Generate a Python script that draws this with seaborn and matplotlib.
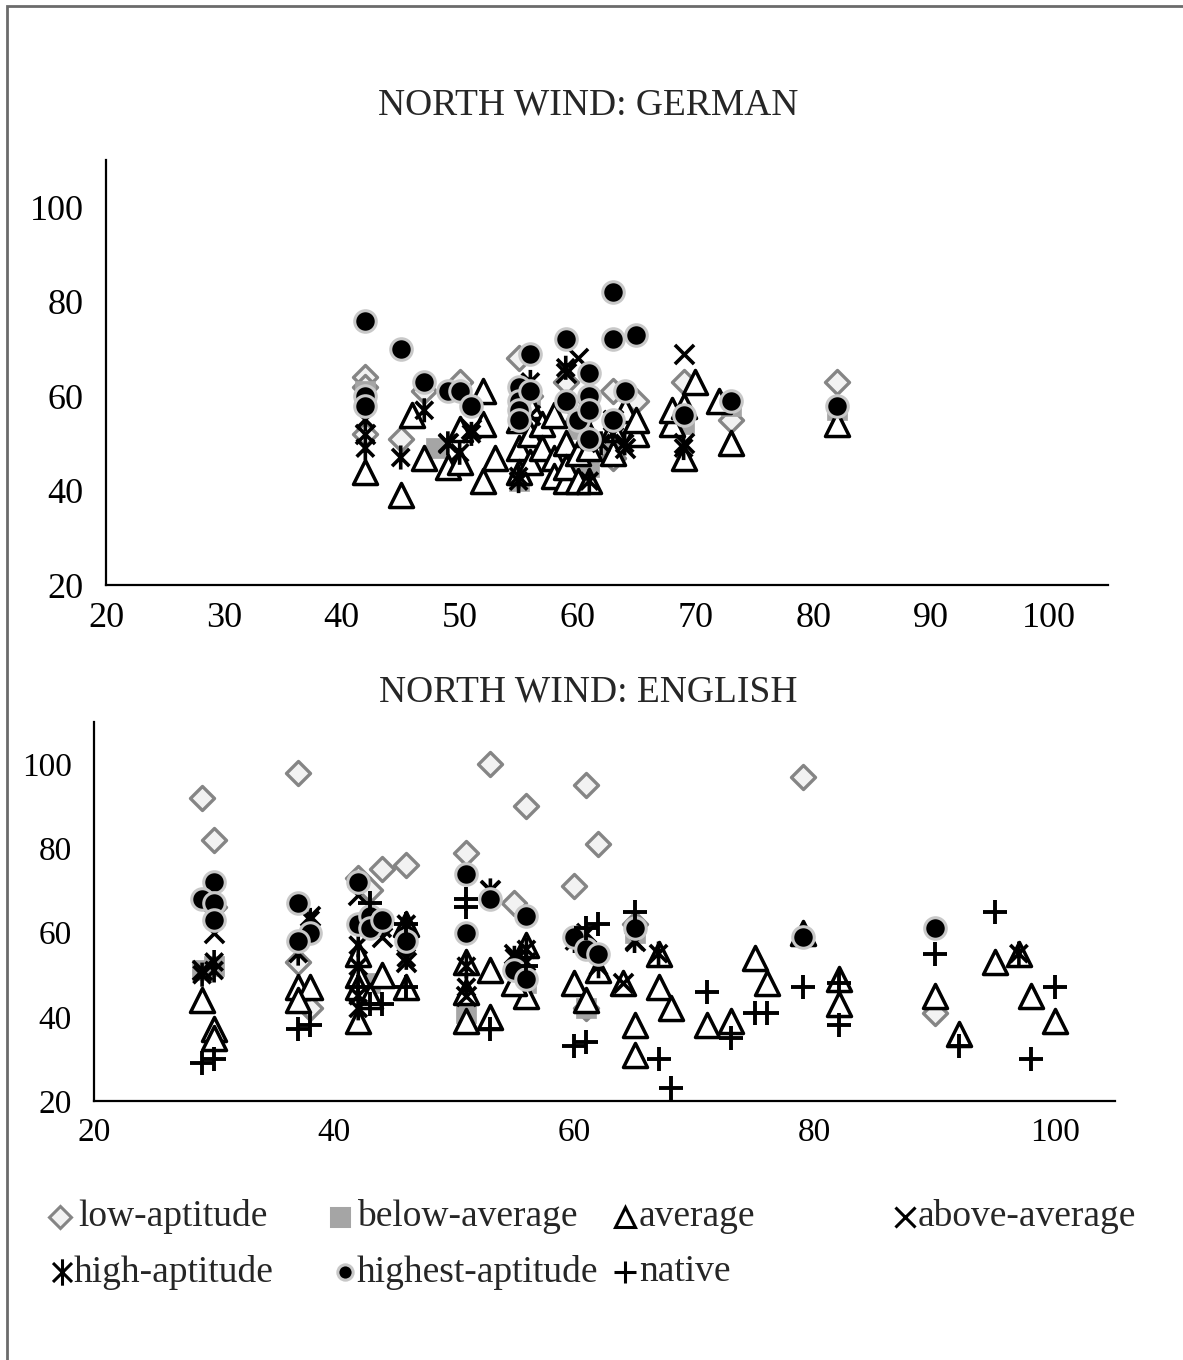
import numpy as np
import pandas as pd
import matplotlib
matplotlib.use("Agg")
import matplotlib.pyplot as plt
from matplotlib.path import Path
from matplotlib.lines import Line2D
from matplotlib.patches import Rectangle
import seaborn as sns

sns.set_style("white")
plt.rcParams["font.family"] = ["Liberation Serif", "DejaVu Serif"]

# ---- NORTH WIND: GERMAN ----
low_de_x = [42, 42, 42, 45, 47, 50, 55, 59, 63, 65, 69, 73, 82, 63, 56, 60]
low_de_y = [64, 62, 52, 51, 61, 63, 68, 63, 61, 59, 63, 55, 63, 47, 60, 57]
below_de_x = [42, 48, 55, 55, 56, 59, 60, 61, 63, 69, 73, 82]
below_de_y = [61, 49, 42, 57, 60, 44, 53, 45, 50, 54, 58, 57]
avg_de_x = [42, 45, 46, 47, 49, 50, 50, 52, 52, 52, 53, 55, 55, 55, 56, 56, 56, 57, 57, 58, 58, 58,
            59, 59, 59, 60, 60, 60, 61, 61, 61, 63, 63, 64, 65, 65, 68, 68, 69, 69, 70, 72, 73, 82]
avg_de_y = [44, 39, 56, 47, 45, 46, 53, 61, 54, 42, 47, 49, 44, 55, 46, 52, 58, 54, 49, 56, 47, 43,
            42, 50, 45, 42, 48, 57, 42, 49, 52, 53, 48, 57, 52, 55, 54, 57, 47, 58, 63, 59, 50, 54]
above_de_x = [42, 49, 51, 59, 60, 63, 64, 69, 69, 56]
above_de_y = [52, 50, 53, 65, 68, 55, 49, 69, 50, 56]
high_de_x = [42, 42, 45, 47, 49, 50, 51, 55, 55, 56, 59, 61, 62, 64, 69, 63]
high_de_y = [55, 49, 47, 57, 50, 48, 52, 42, 43, 63, 66, 42, 50, 50, 49, 52]
highest_de_x = [42, 42, 42, 45, 47, 49, 50, 51, 55, 55, 55, 55, 56, 56, 59, 59, 60, 61, 61, 61,
                63, 63, 63, 64, 65, 69, 73, 82, 61]
highest_de_y = [76, 60, 58, 70, 63, 61, 61, 58, 62, 59, 57, 55, 69, 61, 72, 59, 55, 65, 60, 51,
                82, 72, 55, 61, 73, 56, 59, 58, 57]
native_de_x = []
native_de_y = []

# ---- NORTH WIND: ENGLISH ----
low_en_x = [29, 30, 37, 53, 56, 61, 62, 60, 79, 42, 44, 46, 51, 55, 90, 38, 37, 61, 65, 30, 43]
low_en_y = [92, 82, 98, 100, 90, 95, 81, 71, 97, 73, 75, 76, 79, 67, 41, 42, 53, 42, 62, 66, 70]
below_en_x = [30, 43, 51, 56, 61, 65, 29]
below_en_y = [52, 48, 41, 48, 42, 60, 51]
avg_en_x = [29, 30, 30, 37, 38, 37, 42, 42, 42, 42, 43, 44, 46, 46, 51, 51, 53, 53, 56, 56, 55, 60,
            61, 65, 65, 64, 67, 67, 68, 71, 73, 75, 76, 79, 82, 82, 90, 92, 95, 97, 98, 100, 51, 62]
avg_en_y = [44, 37, 35, 47, 47, 44, 55, 50, 47, 39, 45, 50, 47, 62, 53, 39, 40, 51, 57, 45, 48, 48,
            44, 38, 31, 48, 55, 47, 42, 38, 39, 54, 48, 60, 49, 43, 45, 36, 53, 55, 45, 39, 46, 51]
above_en_x = [29, 30, 38, 42, 44, 46, 51, 53, 55, 61, 64, 65, 30]
above_en_y = [51, 60, 64, 69, 59, 53, 45, 70, 55, 60, 48, 58, 69]
high_en_x = [29, 30, 30, 37, 38, 42, 42, 42, 42, 44, 46, 46, 51, 51, 53, 55, 56, 56, 60, 62, 65, 67, 97]
high_en_y = [50, 51, 53, 55, 63, 57, 52, 45, 42, 61, 62, 54, 52, 47, 70, 54, 56, 53, 58, 52, 58, 55, 55]
highest_en_x = [30, 29, 30, 30, 37, 38, 37, 42, 42, 43, 43, 44, 46, 51, 51, 53, 56, 55, 56, 60, 61,
                62, 65, 79, 90]
highest_en_y = [72, 68, 67, 63, 67, 60, 58, 72, 62, 64, 61, 63, 58, 74, 60, 68, 64, 51, 49, 59, 56,
                55, 61, 59, 61]
native_en_x = [29, 30, 37, 38, 43, 43, 44, 46, 51, 51, 53, 61, 62, 65, 60, 61, 67, 68, 71, 73, 75,
               76, 79, 82, 82, 90, 92, 95, 98, 100, 42, 46, 56]
native_en_y = [29, 30, 37, 38, 67, 43, 43, 47, 68, 66, 37, 61, 62, 65, 33, 34, 30, 23, 46, 35, 41,
               41, 47, 38, 48, 55, 33, 65, 30, 47, 47, 62, 52]

groups = ["low-aptitude", "below-average", "average", "above-average",
          "high-aptitude", "highest-aptitude", "native"]

# asterisk: vertical stroke plus an X
_r = 0.72
asterisk = Path(
    [(0, -1), (0, 1), (-_r, -_r), (_r, _r), (-_r, _r), (_r, -_r)],
    [Path.MOVETO, Path.LINETO, Path.MOVETO, Path.LINETO, Path.MOVETO, Path.LINETO],
)

styles = {
    "low-aptitude": dict(marker="D", s=150, color="#f2f2f2", edgecolor="#858585", linewidth=2.4),
    "below-average": dict(marker="s", s=190, color="#a5a5a5", edgecolor="#a5a5a5", linewidth=0.5),
    "average": dict(marker="^", s=300, color="white", edgecolor="black", linewidth=2.5),
    "above-average": dict(marker="x", s=190, color="black", linewidth=2.6),
    "high-aptitude": dict(marker=asterisk, s=300, color="black", edgecolor="black",
                          facecolor="none", linewidth=2.6),
    "highest-aptitude": dict(marker="o", s=240, color="black", edgecolor="#c8c8c8", linewidth=2.2),
    "native": dict(marker="+", s=280, color="black", linewidth=2.8),
}


def frame(xs, ys):
    rows = []
    for g, x, y in zip(groups, xs, ys):
        for a, b in zip(x, y):
            rows.append((g, a, b))
    return pd.DataFrame(rows, columns=["group", "x", "y"])


df_de = frame([low_de_x, below_de_x, avg_de_x, above_de_x, high_de_x, highest_de_x, native_de_x],
              [low_de_y, below_de_y, avg_de_y, above_de_y, high_de_y, highest_de_y, native_de_y])
df_en = frame([low_en_x, below_en_x, avg_en_x, above_en_x, high_en_x, highest_en_x, native_en_x],
              [low_en_y, below_en_y, avg_en_y, above_en_y, high_en_y, highest_en_y, native_en_y])

W, H = 1183, 1360
fig = plt.figure(figsize=(W / 100, H / 100), dpi=100)


def px_axes(left, top, right, bottom):
    return fig.add_axes([left / W, 1 - bottom / H, (right - left) / W, (bottom - top) / H])


def draw(ax, df, xticks, fs):
    for z, g in enumerate(groups):
        sub = df[df["group"] == g]
        if len(sub) == 0:
            continue
        sns.scatterplot(data=sub, x="x", y="y", ax=ax, legend=False, zorder=3 + z, **styles[g])
    ax.set_xlim(20, 105)
    ax.set_ylim(20, 110)
    ax.set_xticks(xticks)
    ax.set_yticks([20, 40, 60, 80, 100])
    ax.set_xlabel("")
    ax.set_ylabel("")
    for side in ["top", "right"]:
        ax.spines[side].set_visible(False)
    for side in ["left", "bottom"]:
        ax.spines[side].set_color("black")
        ax.spines[side].set_linewidth(1.6)
    ax.tick_params(axis="both", direction="out", length=7, width=1.3, color="black",
                   labelsize=fs, labelcolor="black")
    ax.tick_params(axis="y", pad=9)
    ax.tick_params(axis="x", pad=5)
    ax.grid(False)


ax1 = px_axes(106, 160, 1108, 585)
draw(ax1, df_de, list(range(20, 101, 10)), 26)
ax2 = px_axes(94, 722, 1115, 1101)
draw(ax2, df_en, [20, 40, 60, 80, 100], 24)

fig.text(588 / W, 1 - 105 / H, "NORTH WIND: GERMAN", ha="center", va="center", fontsize=27)
fig.text(588 / W, 1 - 692 / H, "NORTH WIND: ENGLISH", ha="center", va="center", fontsize=27)

# key below the charts
legend_items = [
    ("low-aptitude", 60, 1217, 78),
    ("below-average", 340, 1217, 357),
    ("average", 625, 1217, 639),
    ("above-average", 905, 1217, 918),
    ("high-aptitude", 62, 1272, 74),
    ("highest-aptitude", 345, 1272, 357),
    ("native", 625, 1272, 639),
]
key_sizes = {"low-aptitude": 11, "below-average": 13, "average": 15, "above-average": 14,
             "high-aptitude": 19, "highest-aptitude": 11, "native": 16}
for g, mx, my, tx in legend_items:
    st = styles[g]
    mk = st["marker"]
    face = st.get("facecolor", st["color"])
    edge = st.get("edgecolor", st["color"])
    fig.add_artist(Line2D([mx / W], [1 - my / H], transform=fig.transFigure, marker=mk,
                          markersize=key_sizes[g], markerfacecolor=face,
                          markeredgecolor=edge, markeredgewidth=2.2, linestyle="none"))
    fig.text(tx / W, 1 - my / H, g, ha="left", va="center", fontsize=27)

# outer frame
fig.add_artist(Rectangle((7 / W, -0.01), 1.02, 1 - 6 / H + 0.01, transform=fig.transFigure,
                         fill=False, edgecolor="#6b6b6b", linewidth=2.0))

fig.savefig("out.png", dpi=100)
